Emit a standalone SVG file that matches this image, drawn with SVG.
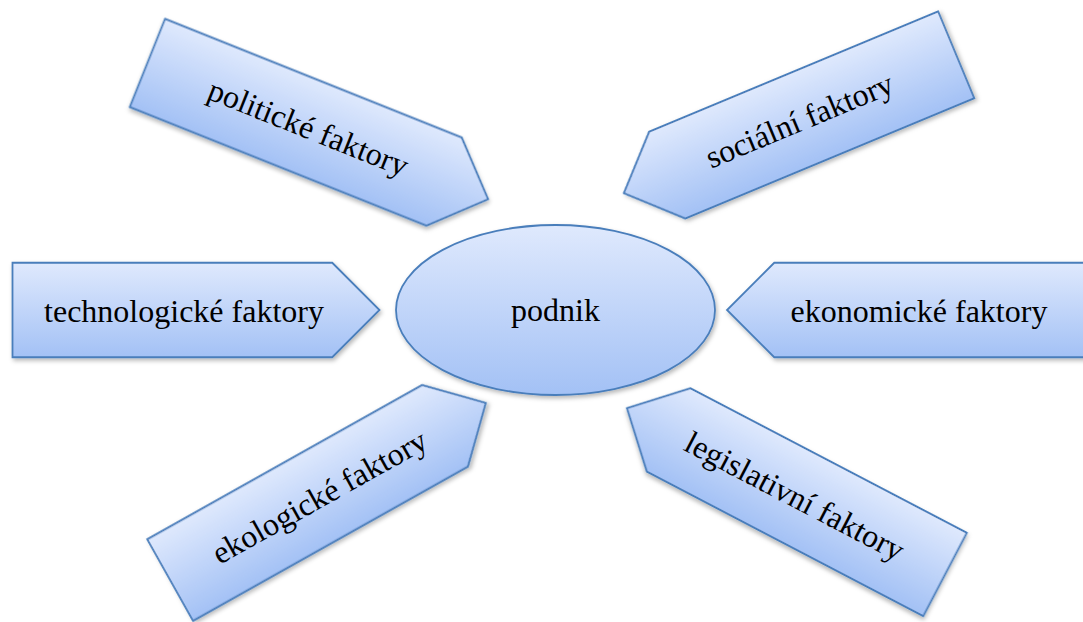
<svg xmlns="http://www.w3.org/2000/svg" width="1083" height="622" viewBox="0 0 1083 622">
  <defs>
    <linearGradient id="fillGrad" x1="0" y1="0" x2="0" y2="1">
      <stop offset="0" stop-color="#dfe9fd"/>
      <stop offset="1" stop-color="#a3c1f5"/>
    </linearGradient>
    <filter id="shadow" x="-10%" y="-10%" width="125%" height="135%">
      <feDropShadow dx="1.5" dy="2.5" stdDeviation="2" flood-color="#000" flood-opacity="0.28"/>
    </filter>
  </defs>
  <style>
    .shape { fill: url(#fillGrad); stroke: #4a7ebb; stroke-width: 1.8; stroke-linejoin: miter; filter: url(#shadow); }
    .label { font-size: 32px; fill: #000; text-anchor: middle; }
  </style>
  <rect x="0" y="0" width="1083" height="622" fill="#ffffff"/>

  <g id="connectors"/>

  <g id="politicke" transform="translate(317.8,131.1) rotate(21.8)">
    <path class="shape" d="M -183.5,-47.5 H 136 L 183.5,0 L 136,47.5 H -183.5 Z"/>
    <text class="label" font-family="'Liberation Serif', 'DejaVu Serif', serif" x="-10" y="11">politické faktory</text>
  </g>

  <g id="socialni" transform="translate(790,124) rotate(-22.6)">
    <path class="shape" d="M 180,-47 H -133 L -180,0 L -133,47 H 180 Z"/>
    <text class="label" font-family="'Liberation Serif', 'DejaVu Serif', serif" x="10" y="11">sociální faktory</text>
  </g>

  <g id="technologicke" transform="translate(196,310)">
    <path class="shape" d="M -183.5,-47.25 H 136.25 L 183.5,0 L 136.25,47.25 H -183.5 Z"/>
    <text class="label" font-family="'Liberation Serif', 'DejaVu Serif', serif" x="-12" y="12">technologické faktory</text>
  </g>

  <g id="ekonomicke" transform="translate(910.5,310)">
    <path class="shape" d="M 183.5,-47.25 H -136.25 L -183.5,0 L -136.25,47.25 H 183.5 Z"/>
    <text class="label" font-family="'Liberation Serif', 'DejaVu Serif', serif" x="8.5" y="12">ekonomické faktory</text>
  </g>

  <g id="ekologicke" transform="translate(328,491.5) rotate(-29.3)">
    <path class="shape" d="M -181,-46.75 H 134.25 L 181,0 L 134.25,46.75 H -181 Z"/>
    <text class="label" font-family="'Liberation Serif', 'DejaVu Serif', serif" x="-10" y="11">ekologické faktory</text>
  </g>

  <g id="legislativni" transform="translate(786,491.3) rotate(27.6)">
    <path class="shape" d="M 179.5,-47 H -132.5 L -179.5,0 L -132.5,47 H 179.5 Z"/>
    <text class="label" font-family="'Liberation Serif', 'DejaVu Serif', serif" x="10" y="11">legislativní faktory</text>
  </g>

  <g id="podnik">
    <ellipse class="shape" cx="555.5" cy="310" rx="159.5" ry="85"/>
    <text class="label" font-family="'Liberation Serif', 'DejaVu Serif', serif" x="555.5" y="321">podnik</text>
  </g>
</svg>
